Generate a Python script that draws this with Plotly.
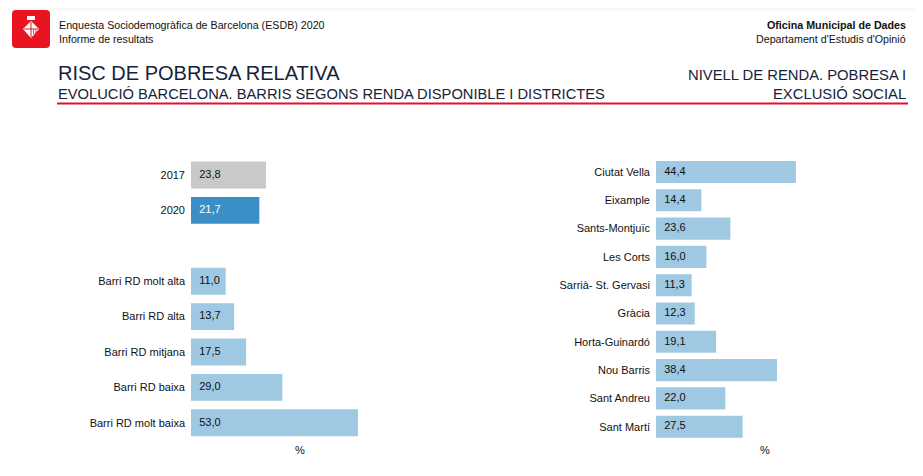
import plotly.graph_objects as go

W, H = 923, 476
OFF = 8  # browser body margin
FW, FH = W - 2 * OFF, H - 2 * OFF

# ---- data ----
evol_labels = ["2017", "2020"]
evol_values = [23.8, 21.7]
barri_labels = ["Barri RD molt alta", "Barri RD alta", "Barri RD mitjana", "Barri RD baixa", "Barri RD molt baixa"]
barri_values = [11.0, 13.7, 17.5, 29.0, 53.0]
district_labels = ["Ciutat Vella", "Eixample", "Sants-Montjuïc", "Les Corts", "Sarrià- St. Gervasi",
                   "Gràcia", "Horta-Guinardó", "Nou Barris", "Sant Andreu", "Sant Martí"]
district_values = [44.4, 14.4, 23.6, 16.0, 11.3, 12.3, 19.1, 38.4, 22.0, 27.5]

FONT = "Arial, 'Liberation Sans', sans-serif"
LIGHT = "#9fc8e3"
GREY = "#c9c9c9"
DARK = "#3b8fc6"

def fmt(v):
    return f"{v:.1f}".replace(".", ",")

def px(x):
    return (x - OFF) / FW

def py(y):
    return 1 - (y - OFF) / FH

fig = go.Figure()

LABEL_X = 2.6

# left panel: positions 0,1 for years, 3..7 for barris
left_pos = [0, 1] + [3 + i for i in range(len(barri_labels))]
left_labels = evol_labels + barri_labels
left_vals = evol_values + barri_values
left_colors = [GREY, DARK] + [LIGHT] * len(barri_labels)
left_txtcol = ["#111111", "#ffffff"] + ["#111111"] * len(barri_labels)

fig.add_trace(go.Bar(x=left_vals, y=left_pos, orientation="h", marker=dict(color=left_colors, line_width=0),
                     width=0.76, xaxis="x", yaxis="y", hoverinfo="skip", showlegend=False))
fig.add_trace(go.Scatter(x=[LABEL_X] * len(left_vals), y=left_pos, mode="text",
                         text=[fmt(v) for v in left_vals], textposition="middle right",
                         textfont=dict(family=FONT, size=11, color=left_txtcol),
                         xaxis="x", yaxis="y", hoverinfo="skip", showlegend=False))

right_pos = list(range(len(district_labels)))
fig.add_trace(go.Bar(x=district_values, y=right_pos, orientation="h", marker=dict(color=LIGHT, line_width=0),
                     width=0.78, xaxis="x2", yaxis="y2", hoverinfo="skip", showlegend=False))
fig.add_trace(go.Scatter(x=[LABEL_X] * len(district_values), y=right_pos, mode="text",
                         text=[fmt(v) for v in district_values], textposition="middle right",
                         textfont=dict(family=FONT, size=11, color="#111111"),
                         xaxis="x2", yaxis="y2", hoverinfo="skip", showlegend=False))

SCALE = 3.15  # px per unit
XMAX = 60
lx0 = 191
rx0 = 656
l_y0 = 175 - 35.4 * 0.5
l_y1 = 175 + 35.4 * 7.5
r_y0 = 172 - 28.3 * 0.5
r_y1 = 172 + 28.3 * 9.5

axis_common = dict(showgrid=False, zeroline=False, showline=False, ticks="")
fig.update_layout(
    width=FW, height=FH, margin=dict(l=0, r=0, t=0, b=0),
    paper_bgcolor="white", plot_bgcolor="white",
    font=dict(family=FONT, size=11, color="#111111"),
    xaxis=dict(domain=[px(lx0), px(lx0 + SCALE * XMAX)], range=[0, XMAX], showticklabels=False, anchor="y", **axis_common),
    yaxis=dict(domain=[py(l_y1), py(l_y0)], range=[7.5, -0.5], tickvals=left_pos, ticktext=left_labels,
               anchor="x", tickfont=dict(size=11, color="#111111"), ticklabelstandoff=5, **axis_common),
    xaxis2=dict(domain=[px(rx0), px(rx0 + SCALE * XMAX)], range=[0, XMAX], showticklabels=False, anchor="y2", **axis_common),
    yaxis2=dict(domain=[py(r_y1), py(r_y0)], range=[9.5, -0.5], tickvals=right_pos, ticktext=district_labels,
                anchor="x2", tickfont=dict(size=11, color="#111111"), ticklabelstandoff=5, **axis_common),
    bargap=0.2,
)

ann = []
def text(x, y, s, size=11, color="#111111", anchor="left", bold=False):
    ann.append(dict(x=px(x), y=py(y), xref="paper", yref="paper", text=f"<b>{s}</b>" if bold else s,
                    showarrow=False, xanchor=anchor, yanchor="middle",
                    font=dict(family=FONT, size=size, color=color)))

text(57, 25, "Enquesta Sociodemogràfica de Barcelona (ESDB) 2020", 10.7)
text(57, 39, "Informe de resultats", 10.7)
text(908, 25, "Oficina Municipal de Dades", 10.7, anchor="right", bold=True)
text(908, 39, "Departament d'Estudis d'Opinió", 10.7, anchor="right")
text(56, 73, "RISC DE POBRESA RELATIVA", 20, color="#15233a")
text(56, 94, "EVOLUCIÓ BARCELONA. BARRIS SEGONS RENDA DISPONIBLE I DISTRICTES", 14.7, color="#15233a")
text(908, 75, "NIVELL DE RENDA. POBRESA I", 14.8, color="#15233a", anchor="right")
text(908, 94, "EXCLUSIÓ SOCIAL", 14.8, color="#15233a", anchor="right")

ann.append(dict(x=(300 - lx0) / SCALE, y=py(450), xref="x", yref="paper", text="%", showarrow=False,
                font=dict(family=FONT, size=11, color="#111111"), xanchor="center", yanchor="middle"))
ann.append(dict(x=(765 - rx0) / SCALE, y=py(450), xref="x2", yref="paper", text="%", showarrow=False,
                font=dict(family=FONT, size=11, color="#111111"), xanchor="center", yanchor="middle"))
fig.update_layout(annotations=ann)

shapes = []
# top faint shadow
shapes.append(dict(type="rect", xref="paper", yref="paper", x0=0, x1=1, y0=py(11), y1=1,
                   fillcolor="#f8f8f8", line_width=0, layer="below"))
# red rule
shapes.append(dict(type="line", xref="paper", yref="paper", x0=px(57), x1=px(908), y0=py(103.5), y1=py(103.5),
                   line=dict(color="#e3102f", width=2)))
# logo
def P(x, y):
    return f"{px(x)},{py(y)}"
r = 4
x0, x1, y0, y1 = 12, 50, 10, 48
logo = (f"M {P(x0 + r, y0)} L {P(x1 - r, y0)} Q {P(x1, y0)} {P(x1, y0 + r)} L {P(x1, y1 - r)} "
        f"Q {P(x1, y1)} {P(x1 - r, y1)} L {P(x0 + r, y1)} Q {P(x0, y1)} {P(x0, y1 - r)} L {P(x0, y0 + r)} "
        f"Q {P(x0, y0)} {P(x0 + r, y0)} Z")
shapes.append(dict(type="path", xref="paper", yref="paper", path=logo, fillcolor="#e8141f", line_width=0))
# crest: small white crown and diamond shield
shapes.append(dict(type="rect", xref="paper", yref="paper", x0=px(27), x1=px(35), y0=py(20), y1=py(16),
                   fillcolor="white", line_width=0))
shield = f"M {P(31, 21)} L {P(39, 29)} L {P(31, 38)} L {P(23, 29)} Z"
shapes.append(dict(type="path", xref="paper", yref="paper", path=shield, fillcolor="white", line_width=0))
shapes.append(dict(type="line", xref="paper", yref="paper", x0=px(31), x1=px(31), y0=py(22), y1=py(37),
                   line=dict(color="#e8141f", width=1)))
shapes.append(dict(type="line", xref="paper", yref="paper", x0=px(24), x1=px(38), y0=py(29), y1=py(29),
                   line=dict(color="#e8141f", width=1)))
for xs in (33.5, 36):
    shapes.append(dict(type="line", xref="paper", yref="paper", x0=px(xs), x1=px(xs), y0=py(29.5), y1=py(34),
                       line=dict(color="#e8141f", width=0.8)))
fig.update_layout(shapes=shapes)

fig.write_html("out.html")
